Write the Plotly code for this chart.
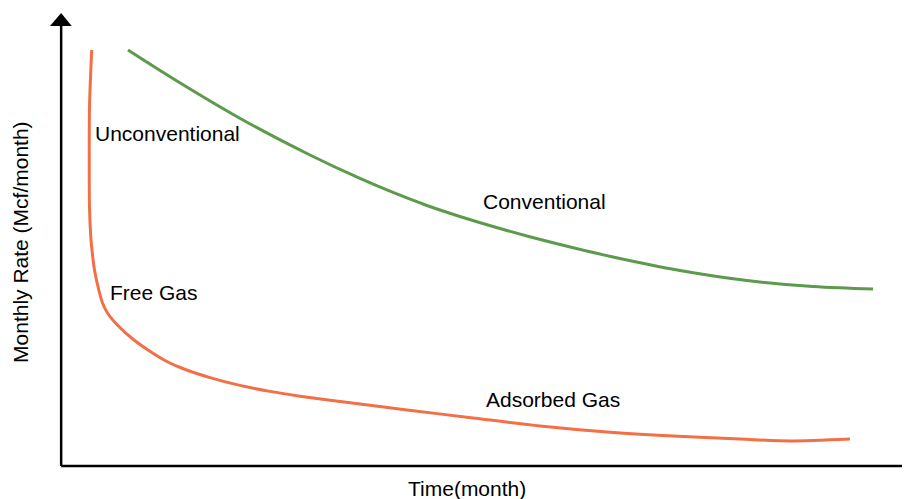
import plotly.graph_objects as go

# Data (time in arbitrary month units 0-100, rate in arbitrary units 0-100)
unconv_time = [3.51, 3.25, 3.22, 3.25, 3.43, 3.61, 3.84, 4.35, 4.79, 5.38, 6.54, 8.51, 10.48,
               12.45, 14.42, 17.49, 21.04, 24.59, 28.13, 31.68, 35.22, 40.78, 48.58, 56.50,
               64.42, 72.22, 80.14, 86.05, 93.14]
unconv_rate = [91.83, 79.25, 67.55, 57.17, 49.89, 46.58, 43.27, 38.85, 35.98, 33.77, 31.13, 27.81,
               25.23, 23.02, 21.41, 19.51, 17.79, 16.47, 15.41, 14.51, 13.69, 12.38, 10.60, 8.83,
               7.51, 6.62, 5.96, 5.52, 5.96]

conv_time = [7.80, 13.59, 21.39, 29.31, 35.22, 39.13, 43.14, 47.04, 50.95, 54.96, 58.87,
             65.13, 73.05, 80.97, 88.77, 95.86]
conv_rate = [91.83, 84.99, 76.38, 68.65, 63.47, 60.38, 57.51, 55.08, 52.87, 50.77, 48.90,
             46.14, 43.16, 40.95, 39.62, 39.07]

labels = ["Unconventional", "Conventional", "Free Gas", "Adsorbed Gas"]
label_x = [3.66, 49.52, 5.43, 49.86]
label_y = [73.5, 58.3, 38.2, 14.6]

x_title = "Time(month)"
y_title = "Monthly Rate (Mcf/month)"

FONT = "Liberation Sans, Arial, sans-serif"

fig = go.Figure()
fig.add_trace(go.Scatter(x=unconv_time, y=unconv_rate, mode="lines",
                         line=dict(color="#F36F45", width=3, shape="spline", smoothing=0.8),
                         hoverinfo="skip", showlegend=False, cliponaxis=False))
fig.add_trace(go.Scatter(x=conv_time, y=conv_rate, mode="lines",
                         line=dict(color="#5C9A4C", width=3, shape="spline", smoothing=1.0),
                         hoverinfo="skip", showlegend=False, cliponaxis=False))

annotations = []
for t, x, y in zip(labels, label_x, label_y):
    annotations.append(dict(x=x, y=y, xref="x", yref="y", text=t, showarrow=False,
                            xanchor="left", yanchor="middle",
                            font=dict(family=FONT, size=21, color="black")))
annotations.append(dict(x=0.4787, y=-0.0486, xref="paper", yref="paper", text=x_title,
                        showarrow=False, xanchor="center", yanchor="middle",
                        font=dict(family=FONT, size=21, color="black")))
annotations.append(dict(x=-0.0485, y=0.4945, xref="paper", yref="paper", text=y_title,
                        showarrow=False, xanchor="center", yanchor="middle", textangle=-90,
                        font=dict(family=FONT, size=21, color="black")))

shapes = [
    # y axis line
    dict(type="line", xref="paper", yref="paper", x0=-0.001, y0=0, x1=-0.001, y1=0.975,
         line=dict(color="black", width=2.5)),
    # y axis arrow head
    dict(type="path", xref="paper", yref="paper",
         path="M -0.0142,0.9713 L 0.0115,0.9713 L -0.001,1.0 Z",
         fillcolor="black", line=dict(color="black", width=0)),
    # x axis line
    dict(type="line", xref="paper", yref="paper", x0=-0.001, y0=0, x1=1.0, y1=0,
         line=dict(color="black", width=2.5)),
    # x axis arrow head (clipped by window edge)
    dict(type="path", xref="paper", yref="paper",
         path="M 1.0,0.0232 L 1.0,-0.0232 L 1.02,0 Z",
         fillcolor="black", line=dict(color="black", width=0)),
]

# page body has an 8px margin, so the figure is sized to end at the window edge
fig.update_layout(
    width=902, height=491,
    margin=dict(l=54, r=2, t=5, b=33),
    paper_bgcolor="white", plot_bgcolor="white",
    xaxis=dict(range=[0, 100], visible=False, fixedrange=True),
    yaxis=dict(range=[0, 100], visible=False, fixedrange=True),
    annotations=annotations, shapes=shapes,
    font=dict(family=FONT),
)

fig.write_html("out.html")
